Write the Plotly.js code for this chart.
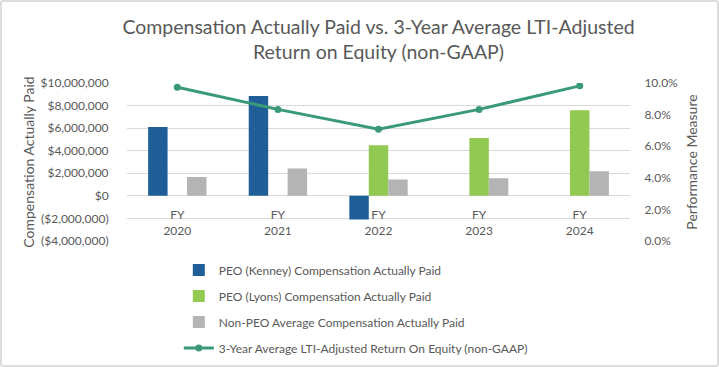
<!DOCTYPE html>
<html>
<head>
<meta charset="utf-8">
<script src="https://cdn.plot.ly/plotly-3.0.1.min.js"></script>
<style>
html,body{margin:0;padding:0;background:#fff;}
#frame{position:absolute;left:0;top:0;width:715px;height:363px;border:2px solid #dcdcdc;border-radius:3px;overflow:hidden;}
#chart{position:absolute;left:-2px;top:-2px;width:719px;height:367px;}
</style>
</head>
<body>
<div id="frame"><div id="chart"></div></div>
<script>
// Data
const categories = ["FY<br>2020", "FY<br>2021", "FY<br>2022", "FY<br>2023", "FY<br>2024"];
const kenneyCAP = [6100000, 8850000, -2090000, null, null];
const lyonsCAP = [null, null, 4490000, 5130000, 7580000];
const nonPeoCAP = [1680000, 2420000, 1450000, 1570000, 2190000];
const ltiRoe = [0.0973, 0.0833, 0.0707, 0.0833, 0.0982];

const seriesNames = [
  "PEO (Kenney) Compensation Actually Paid",
  "PEO (Lyons) Compensation Actually Paid",
  "Non-PEO Average Compensation Actually Paid",
  "3-Year Average LTI-Adjusted Return On Equity (non-GAAP)"
];

const leftTickVals = [-4000000, -2000000, 0, 2000000, 4000000, 6000000, 8000000, 10000000];
const leftTickText = ["($4,000,000)", "($2,000,000)", "$0", "$2,000,000", "$4,000,000", "$6,000,000", "$8,000,000", "$10,000,000"];

const FONT = "Lato, 'Open Sans', sans-serif";
const TXT = "#595959";
const CLEAR = "rgba(0,0,0,0)";

const traces = [
  {type: "bar", name: seriesNames[0], x: categories, y: kenneyCAP, marker: {color: "#1F5E97"}, legendgroup: "a", hoverinfo: "skip"},
  {type: "bar", name: seriesNames[1], x: categories, y: lyonsCAP, marker: {color: "#92C952"}, legendgroup: "b", hoverinfo: "skip"},
  {type: "bar", name: seriesNames[2], x: categories, y: nonPeoCAP, marker: {color: "#B4B4B4"}, legendgroup: "c", hoverinfo: "skip"},
  {type: "scatter", mode: "lines+markers", name: seriesNames[3], x: categories, y: ltiRoe, yaxis: "y2",
   line: {color: "#3A9A78", width: 3}, marker: {color: "#3A9A78", size: 7}, legendgroup: "d", hoverinfo: "skip"}
];

const layout = {
  width: 719, height: 367,
  paper_bgcolor: CLEAR, plot_bgcolor: CLEAR,
  font: {family: FONT, color: TXT, size: 12},
  margin: {l: 127, r: 89, t: 83, b: 126, pad: 0, autoexpand: false},
  title: {
    text: "Compensation Actually Paid vs. 3-Year Average LTI-Adjusted<br>Return on Equity (non-GAAP)",
    font: {family: FONT, size: 19.5, color: TXT},
    x: 0.5, xref: "paper", xanchor: "center",
    y: 1 - 34 / 367, yref: "container", yanchor: "top"
  },
  barmode: "group",
  bargap: 0.42,
  bargroupgap: 0,
  xaxis: {
    anchor: "free", position: 0.2867,
    showgrid: false, showline: false, zeroline: false,
    ticks: "outside", ticklen: 8, tickcolor: CLEAR,
    tickfont: {family: FONT, size: 12, color: TXT},
    fixedrange: true
  },
  yaxis: {
    range: [-4000000, 10000000],
    tickvals: leftTickVals, ticktext: leftTickText,
    showgrid: true, gridcolor: "#D9D9D9", gridwidth: 1,
    zeroline: true, zerolinecolor: "#D9D9D9", zerolinewidth: 1,
    showline: false,
    ticks: "outside", ticklen: 15, tickcolor: CLEAR,
    tickfont: {family: FONT, size: 12, color: TXT},
    title: {text: "Compensation Actually Paid", font: {family: FONT, size: 14, color: TXT}, standoff: 2},
    fixedrange: true
  },
  yaxis2: {
    overlaying: "y", side: "right",
    range: [0, 0.10], dtick: 0.02, tickformat: ".1%",
    showgrid: false, zeroline: false, showline: false,
    ticks: "outside", ticklen: 11, tickcolor: CLEAR,
    tickfont: {family: FONT, size: 12, color: TXT},
    title: {text: "Performance Measure", font: {family: FONT, size: 14, color: TXT}, standoff: 10},
    fixedrange: true
  },
  showlegend: true,
  legend: {
    orientation: "v",
    x: 0.103, xanchor: "left",
    y: -0.092, yanchor: "top",
    traceorder: "grouped",
    tracegroupgap: 7,
    font: {family: FONT, size: 12, color: TXT},
    bgcolor: CLEAR
  }
};

Plotly.newPlot("chart", traces, layout, {displayModeBar: false, staticPlot: true});
</script>
</body>
</html>
